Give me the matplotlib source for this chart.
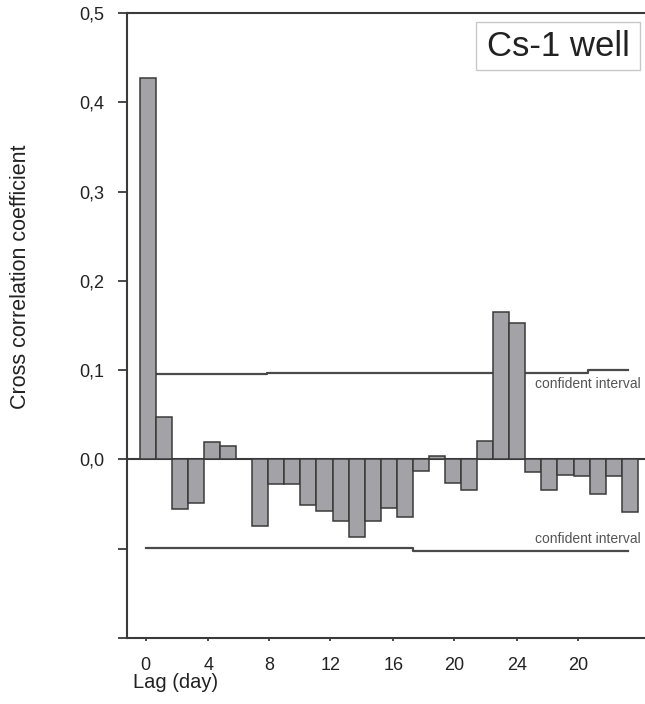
import matplotlib
matplotlib.use("Agg")
import matplotlib.pyplot as plt
from matplotlib.patches import Rectangle

plt.rcParams['font.family'] = ['Liberation Sans', 'DejaVu Sans']

# ---- data ----
lags = list(range(31))
values = [0.427, 0.047, -0.056, -0.049, 0.020, 0.015, 0.000, -0.075,
          -0.027, -0.027, -0.051, -0.058, -0.069, -0.087, -0.069, -0.054,
          -0.064, -0.013, 0.004, -0.026, -0.034, 0.021, 0.165, 0.153,
          -0.014, -0.034, -0.017, -0.019, -0.039, -0.019, -0.059]

ci_upper_x = [0.0, 7.4, 7.4, 27.4, 27.4, 29.9]
ci_upper_y = [0.0955, 0.0955, 0.0973, 0.0973, 0.100, 0.100]
ci_lower_x = [-0.1, 16.5, 16.5, 29.9]
ci_lower_y = [-0.099, -0.099, -0.102, -0.102]

xtick_pos = [-0.13, 3.77, 7.57, 11.35, 15.29, 19.07, 23.01, 26.81]
xtick_labels = ["0", "4", "8", "12", "16", "20", "24", "20"]
ytick_pos = [0.5, 0.4, 0.3, 0.2, 0.1, 0.0, -0.1, -0.2]
ytick_labels = ["0,5", "0,4", "0,3", "0,2", "0,1", "0,0", "", ""]

W, H = 645, 704
fig = plt.figure(figsize=(W / 100, H / 100), dpi=100)
ax = fig.add_axes([127 / W, (H - 638) / H, (W - 127) / W, (638 - 13) / H])

dark = '#3a3a3a'
ax.plot(ci_upper_x, ci_upper_y, color='#4a4a4a', lw=1.6, zorder=1)
ax.plot(ci_lower_x, ci_lower_y, color='#4a4a4a', lw=1.6, zorder=1)
ax.axhline(0, color=dark, lw=1.5, zorder=1)
ax.bar(lags, values, width=1.0, color='#a3a3a7', edgecolor=dark, lw=1.1, zorder=2)

ax.text(30.7, 0.0846, "confident interval", ha='right', va='center',
        fontsize=10, color='#555555')
ax.text(30.7, -0.0896, "confident interval", ha='right', va='center',
        fontsize=10, color='#555555')

ax.set_xlim(-1.295, 30.95)
ax.set_ylim(-0.2, 0.5)

for s in ['left', 'top', 'bottom']:
    ax.spines[s].set_color(dark)
    ax.spines[s].set_linewidth(1.5)
ax.spines['right'].set_visible(False)

ax.set_yticks(ytick_pos)
ax.set_yticklabels(ytick_labels)
ax.set_xticks(xtick_pos)
ax.set_xticklabels(xtick_labels)
ax.tick_params(axis='y', length=6.5, width=1.3, color=dark, pad=10,
               labelsize=13, labelcolor='#222222')
ax.tick_params(axis='x', length=2.5, width=1.3, color=dark, pad=11,
               labelsize=13, labelcolor='#222222')

# title box
fig.patches.append(Rectangle((476 / W, 1 - 70 / H), 164 / W, 48 / H,
                             transform=fig.transFigure, facecolor='white',
                             edgecolor='#c8c8c8', lw=1.0, zorder=5))
fig.text(558 / W, 1 - 46 / H, "Cs-1 well", ha='center', va='center',
         fontsize=25, color='#222222', zorder=6)

fig.text(21 / W, 1 - 277 / H, "Cross correlation coefficient", rotation=90,
         ha='center', va='center', fontsize=15.5, color='#222222')
fig.text(133 / W, 1 - 683 / H, "Lag (day)", ha='left', va='center',
         fontsize=14.5, color='#222222')

fig.savefig("out.png", dpi=100)
